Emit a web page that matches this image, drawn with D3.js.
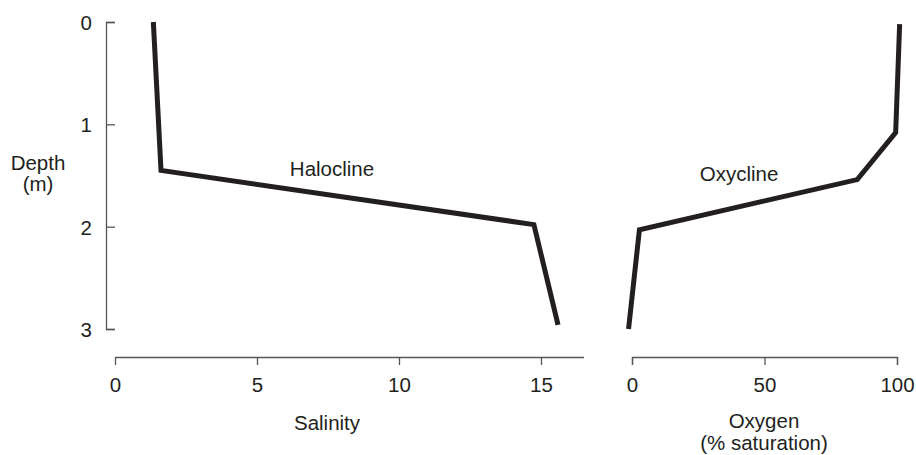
<!DOCTYPE html>
<html>
<head>
    <title>Halocline and Oxycline</title>
    <script src="https://d3js.org/d3.v7.min.js"></script>
    <style>
        body { margin: 0; background: #fff; }
        text { font-family: "Liberation Sans", Arial, sans-serif; fill: #231f20; }
    </style>
</head>
<body>
    <div id="container"></div>
    <script>
        const width = 916;
        const height = 455;

        // depth profile readings
        const depthTicks = [0, 1, 2, 3];
        const salinityTicks = [0, 5, 10, 15];
        const oxygenTicks = [0, 50, 100];

        const salinityDepth = [0, 1.45, 1.98, 2.96];
        const salinity = [1.35, 1.62, 14.75, 15.6];

        const oxygenDepth = [0.02, 1.08, 1.54, 2.03, 3.0];
        const oxygen = [101, 99.5, 85, 2.8, -1.3];

        const ink = "#231f20";
        const axisInk = "#555";
        const fontSize = "20.5px";

        const yScale = d3.scaleLinear().domain([0, 3]).range([22, 329]);
        const xSal = d3.scaleLinear().domain([0, 16.5]).range([115, 583.6]);
        const xOxy = d3.scaleLinear().domain([0, 100]).range([632, 897]);

        const svg = d3.select("#container").append("svg")
            .attr("width", width)
            .attr("height", height);

        // depth axis, ticks pointing inward
        const yAxis = svg.append("g")
            .attr("transform", "translate(106,0)")
            .call(d3.axisLeft(yScale)
                .tickValues(depthTicks)
                .tickFormat(d3.format("d"))
                .tickSizeInner(-9)
                .tickSizeOuter(-9)
                .tickPadding(14));

        const salAxis = svg.append("g")
            .attr("transform", "translate(0,357)")
            .call(d3.axisBottom(xSal)
                .tickValues(salinityTicks)
                .tickFormat(d3.format("d"))
                .tickSize(8)
                .tickSizeOuter(0)
                .tickPadding(12));

        const oxyAxis = svg.append("g")
            .attr("transform", "translate(0,357)")
            .call(d3.axisBottom(xOxy)
                .tickValues(oxygenTicks)
                .tickFormat(d3.format("d"))
                .tickSize(8)
                .tickSizeOuter(8)
                .tickPadding(12));

        [yAxis, salAxis, oxyAxis].forEach(g => {
            g.selectAll("path, line").attr("stroke", axisInk).attr("stroke-width", 1.3);
            g.selectAll("text")
                .attr("fill", ink)
                .style("font-size", fontSize)
                .style("font-family", "'Liberation Sans', Arial, sans-serif");
        });
        yAxis.selectAll("text").attr("dy", "0.36em");

        const salLine = d3.line()
            .x((d, i) => xSal(d))
            .y((d, i) => yScale(salinityDepth[i]));

        const oxyLine = d3.line()
            .x((d, i) => xOxy(d))
            .y((d, i) => yScale(oxygenDepth[i]));

        svg.append("path")
            .datum(salinity)
            .attr("fill", "none")
            .attr("stroke", ink)
            .attr("stroke-width", 5)
            .attr("stroke-linejoin", "miter")
            .attr("d", salLine);

        svg.append("path")
            .datum(oxygen)
            .attr("fill", "none")
            .attr("stroke", ink)
            .attr("stroke-width", 5)
            .attr("stroke-linejoin", "miter")
            .attr("d", oxyLine);

        // labels
        const label = (x, y, t) => svg.append("text")
            .attr("x", x)
            .attr("y", y)
            .attr("text-anchor", "middle")
            .style("font-size", fontSize)
            .text(t);

        label(332, 176, "Halocline");
        label(739, 181, "Oxycline");
        label(38, 170, "Depth");
        label(38, 191, "(m)");
        label(327, 430, "Salinity");
        label(764, 428, "Oxygen");
        label(764, 450, "(% saturation)");
    </script>
</body>
</html>
